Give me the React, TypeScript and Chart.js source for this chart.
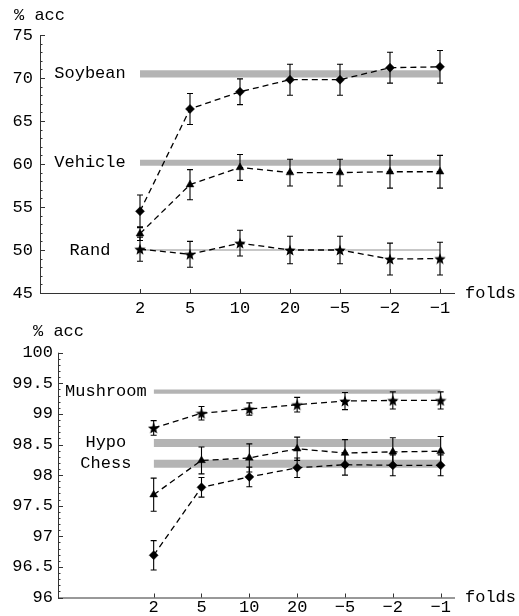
import React, { useEffect, useRef } from "react";
import { Chart, registerables } from "chart.js";

Chart.register(...registerables);

// ---------- data ----------
const FOLD_LABELS = ["2", "5", "10", "20", "−5", "−2", "−1"];
const FOLD_POS = [2, 3, 4, 5, 6, 7, 8];

// top panel
const SOYBEAN = [54.5, 66.4, 68.4, 69.8, 69.8, 71.2, 71.3];
const SOYBEAN_ERR = [1.9, 1.8, 1.5, 1.8, 1.8, 1.8, 1.9];
const VEHICLE = [51.9, 57.6, 59.6, 59.0, 59.0, 59.1, 59.1];
const VEHICLE_ERR = [0.8, 1.75, 1.5, 1.55, 1.55, 1.9, 1.9];
const RAND = [50.1, 49.5, 50.8, 50.0, 50.0, 48.95, 49.0];
const RAND_ERR = [1.4, 1.5, 1.5, 1.6, 1.6, 1.85, 1.9];

const TOP_BAND_NAMES = ["Soybean", "Vehicle", "Rand"];
const TOP_BAND_LO = [70.05, 59.8, 49.9];
const TOP_BAND_HI = [70.9, 60.5, 50.1];

// bottom panel
const MUSHROOM = [98.77, 99.01, 99.08, 99.15, 99.21, 99.22, 99.22];
const MUSHROOM_ERR = [0.12, 0.11, 0.1, 0.12, 0.14, 0.14, 0.14];
const HYPO = [97.68, 98.24, 98.28, 98.43, 98.36, 98.38, 98.39];
const HYPO_ERR = [0.27, 0.22, 0.23, 0.19, 0.22, 0.23, 0.24];
const CHESS = [96.69, 97.8, 97.97, 98.12, 98.17, 98.16, 98.16];
const CHESS_ERR = [0.24, 0.16, 0.16, 0.16, 0.17, 0.17, 0.17];

const BOTTOM_BAND_NAMES = ["Mushroom", "Hypo", "Chess"];
const BOTTOM_BAND_LO = [99.33, 98.46, 98.12];
const BOTTOM_BAND_HI = [99.4, 98.59, 98.25];

// ---------- styling ----------
const FONT = "'Liberation Mono', 'DejaVu Sans Mono', monospace";
const FONT_SIZE = 17;
const BAND_COLOR = "#b4b4b4";
const AXIS_COLOR = "#333333";

function makeStar(): HTMLCanvasElement {
  const c = document.createElement("canvas");
  c.width = 12;
  c.height = 12;
  const g = c.getContext("2d")!;
  g.beginPath();
  for (let i = 0; i < 10; i++) {
    const r = i % 2 === 0 ? 6 : 2.6;
    const a = -Math.PI / 2 + (i * Math.PI) / 5;
    const px = 6 + r * Math.cos(a);
    const py = 6.6 + r * Math.sin(a);
    if (i === 0) g.moveTo(px, py);
    else g.lineTo(px, py);
  }
  g.closePath();
  g.fillStyle = "#000";
  g.fill();
  return c;
}

type Series = { values: number[]; errors: number[]; style: any; radius: number };

type PanelCfg = {
  series: Series[];
  bandNames: string[];
  bandLo: number[];
  bandHi: number[];
  yMin: number;
  yMax: number;
  yStep: number;
  yMinor: number;
  canvasH: number;
  axisWidth: number;
  areaTop: number;
  areaBottom: number;
  yPad: number;
  xPad: number;
  accDx: number;
  accDy: number;
};

function buildConfig(p: PanelCfg): any {
  const XH = 25;
  const datasets: any[] = [];
  p.series.forEach((s) => {
    datasets.push({
      type: "line",
      data: FOLD_POS.map((x, i) => ({ x, y: s.values[i] })),
      borderColor: "#000",
      borderWidth: 1.3,
      borderDash: [6, 4],
      backgroundColor: "#000",
      pointBackgroundColor: "#000",
      pointBorderColor: "#000",
      pointBorderWidth: 0.5,
      pointStyle: s.style,
      pointRadius: s.radius,
      tension: 0,
      fill: false,
      order: 0,
      errors: s.errors,
    });
  });
  p.bandNames.forEach((_, b) => {
    datasets.push({
      type: "line",
      data: [
        { x: FOLD_POS[0], y: p.bandLo[b] },
        { x: FOLD_POS[FOLD_POS.length - 1], y: p.bandLo[b] },
      ],
      borderWidth: 0,
      pointRadius: 0,
      fill: false,
      order: 2,
    });
    datasets.push({
      type: "line",
      data: [
        { x: FOLD_POS[0], y: p.bandHi[b] },
        { x: FOLD_POS[FOLD_POS.length - 1], y: p.bandHi[b] },
      ],
      borderWidth: 0,
      pointRadius: 0,
      backgroundColor: BAND_COLOR,
      fill: "-1",
      order: 2,
    });
  });

  const decor = {
    id: "decor",
    afterDatasetsDraw(chart: any) {
      const ctx = chart.ctx;
      const xs = chart.scales.x;
      const ys = chart.scales.y;
      ctx.save();
      ctx.strokeStyle = "#000";
      ctx.lineWidth = 1.1;
      p.series.forEach((s) => {
        FOLD_POS.forEach((x, i) => {
          const px = xs.getPixelForValue(x);
          const y1 = ys.getPixelForValue(s.values[i] + s.errors[i]);
          const y2 = ys.getPixelForValue(s.values[i] - s.errors[i]);
          ctx.beginPath();
          ctx.moveTo(px, y1);
          ctx.lineTo(px, y2);
          ctx.moveTo(px - 3, y1);
          ctx.lineTo(px + 3, y1);
          ctx.moveTo(px - 3, y2);
          ctx.lineTo(px + 3, y2);
          ctx.stroke();
        });
      });
      ctx.restore();
    },
    afterDraw(chart: any) {
      const ctx = chart.ctx;
      const xs = chart.scales.x;
      const ys = chart.scales.y;
      const a = chart.chartArea;
      ctx.save();
      // axes
      ctx.strokeStyle = AXIS_COLOR;
      ctx.lineWidth = 1;
      ctx.beginPath();
      ctx.moveTo(a.left + 0.5, a.top);
      ctx.lineTo(a.left + 0.5, a.bottom + 0.5);
      ctx.lineTo(a.right, a.bottom + 0.5);
      ctx.stroke();
      // y ticks (inward)
      const n = Math.round((p.yMax - p.yMin) / p.yMinor);
      const per = Math.round(p.yStep / p.yMinor);
      ctx.beginPath();
      for (let k = 0; k <= n; k++) {
        const v = p.yMin + k * p.yMinor;
        const py = Math.round(ys.getPixelForValue(v)) + 0.5;
        const len = k % per === 0 ? 5 : 2.5;
        ctx.moveTo(a.left, py);
        ctx.lineTo(a.left + len, py);
      }
      // x ticks (inward)
      FOLD_POS.forEach((x) => {
        const px = Math.round(xs.getPixelForValue(x)) + 0.5;
        ctx.moveTo(px, a.bottom);
        ctx.lineTo(px, a.bottom - 4);
      });
      ctx.stroke();
      // texts
      ctx.fillStyle = "#000";
      ctx.font = `${FONT_SIZE}px ${FONT}`;
      ctx.textBaseline = "middle";
      ctx.textAlign = "left";
      ctx.fillText("% acc", a.left - p.accDx, a.top - p.accDy);
      ctx.fillText("folds", a.right + 10, a.bottom);
      ctx.textAlign = "center";
      p.bandNames.forEach((name, b) => {
        const cy = ys.getPixelForValue((p.bandLo[b] + p.bandHi[b]) / 2);
        ctx.fillText(name, xs.getPixelForValue(1), cy);
      });
      ctx.restore();
    },
  };

  return {
    type: "line",
    data: { datasets },
    plugins: [decor],
    options: {
      animation: false,
      responsive: false,
      events: [],
      layout: {
        padding: {
          top: p.areaTop,
          right: 519 - 455,
          bottom: p.canvasH - p.areaBottom - XH,
          left: 0,
        },
      },
      plugins: { legend: { display: false }, tooltip: { enabled: false } },
      scales: {
        x: {
          type: "linear",
          min: 0,
          max: 8.3,
          afterFit: (s: any) => {
            s.height = XH;
          },
          afterBuildTicks: (s: any) => {
            s.ticks = FOLD_POS.map((v) => ({ value: v }));
          },
          grid: { display: false, drawTicks: false },
          border: { display: false },
          ticks: {
            autoSkip: false,
            maxRotation: 0,
            padding: p.xPad,
            color: "#000",
            font: { family: FONT, size: FONT_SIZE },
            callback: (v: any) => {
              const i = FOLD_POS.indexOf(Number(v));
              return i >= 0 ? FOLD_LABELS[i] : "";
            },
          },
        },
        y: {
          type: "linear",
          min: p.yMin,
          max: p.yMax,
          afterFit: (s: any) => {
            s.width = p.axisWidth;
          },
          grid: { display: false, drawTicks: false },
          border: { display: false },
          ticks: {
            stepSize: p.yStep,
            padding: p.yPad,
            color: "#000",
            font: { family: FONT, size: FONT_SIZE },
            callback: (v: any) => String(Math.round(Number(v) * 10) / 10),
          },
        },
      },
    },
  };
}

function Panel({ cfg, top }: { cfg: PanelCfg; top: number }) {
  const ref = useRef<HTMLCanvasElement>(null);
  useEffect(() => {
    if (!ref.current) return;
    const chart = new Chart(ref.current, buildConfig(cfg));
    return () => chart.destroy();
  }, []);
  return (
    <canvas
      ref={ref}
      width={519}
      height={cfg.canvasH}
      style={{ position: "absolute", left: 0, top, width: 519, height: cfg.canvasH }}
    />
  );
}

export default function App() {
  const star = makeStar();
  const topCfg: PanelCfg = {
    series: [
      { values: SOYBEAN, errors: SOYBEAN_ERR, style: "rectRot", radius: 4.5 },
      { values: VEHICLE, errors: VEHICLE_ERR, style: "triangle", radius: 4.5 },
      { values: RAND, errors: RAND_ERR, style: star, radius: 6 },
    ],
    bandNames: TOP_BAND_NAMES,
    bandLo: TOP_BAND_LO,
    bandHi: TOP_BAND_HI,
    yMin: 45,
    yMax: 75,
    yStep: 5,
    yMinor: 1,
    canvasH: 330,
    axisWidth: 40,
    areaTop: 35,
    areaBottom: 293,
    yPad: 7,
    xPad: 5,
    accDx: 26,
    accDy: 20,
  };
  const botCfg: PanelCfg = {
    series: [
      { values: MUSHROOM, errors: MUSHROOM_ERR, style: star, radius: 6 },
      { values: HYPO, errors: HYPO_ERR, style: "triangle", radius: 4.5 },
      { values: CHESS, errors: CHESS_ERR, style: "rectRot", radius: 4.5 },
    ],
    bandNames: BOTTOM_BAND_NAMES,
    bandLo: BOTTOM_BAND_LO,
    bandHi: BOTTOM_BAND_HI,
    yMin: 96,
    yMax: 100,
    yStep: 0.5,
    yMinor: 0.1,
    canvasH: 330,
    axisWidth: 58,
    areaTop: 44.7,
    areaBottom: 289.5,
    yPad: 5,
    xPad: 0,
    accDx: 25,
    accDy: 21,
  };
  return (
    <div style={{ position: "fixed", left: 0, top: 0, width: 519, height: 616, overflow: "hidden", background: "#fff" }}>
      <Panel cfg={topCfg} top={0} />
      <Panel cfg={botCfg} top={308} />
    </div>
  );
}
